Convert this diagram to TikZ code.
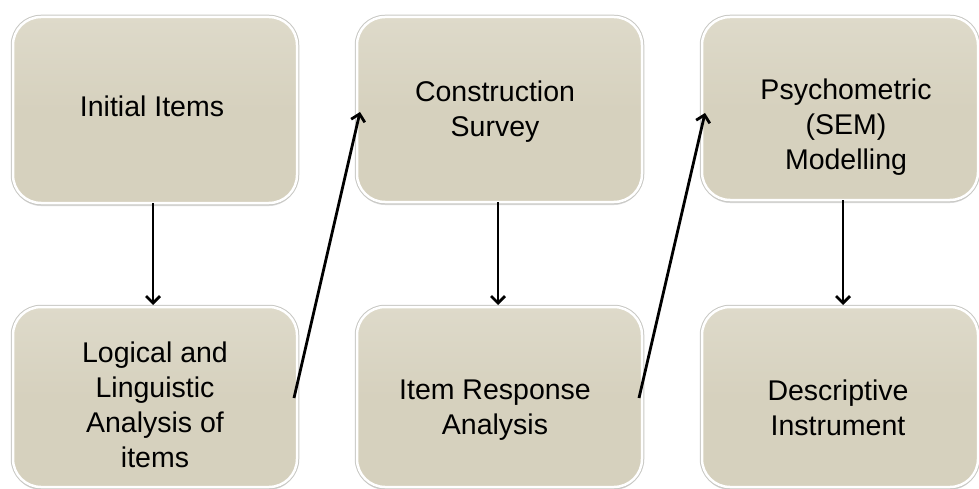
\documentclass[tikz,border=0pt]{standalone}
\usepackage{fontspec}
\setmainfont{Liberation Sans}
\usetikzlibrary{arrows.meta,shadows}
\definecolor{boxfill}{RGB}{214,209,190}
\definecolor{boxtop}{RGB}{222,218,202}
\definecolor{boxedge}{RGB}{200,200,196}
\tikzset{
  stagebox/.style={rectangle, rounded corners=28pt, top color=boxtop, bottom color=boxfill,
    middle color=boxfill, draw=white,
    line width=2.5pt, inner sep=0pt, outer sep=0pt,
    drop shadow={shadow xshift=0pt, shadow yshift=-3pt, opacity=0.3, fill=gray},
    preaction={draw=boxedge, line width=4.5pt}},
  stagetext/.style={align=center, anchor=base, inner sep=0pt,
    font=\fontsize{28.5}{35}\selectfont},
  flow/.style={line width=2.8pt, -{Straight Barb[length=7pt,width=14pt,line width=2.8pt]}},
}
\begin{document}
\begin{tikzpicture}[x=1pt,y=-1pt]
\useasboundingbox (0,0) rectangle (979,489);
% boxes
\node[stagebox, minimum width=284pt, minimum height=186pt] (b1) at (155,110) {};
\node[stagebox, minimum width=285pt, minimum height=185pt] (b2) at (499.5,109.5) {};
\node[stagebox, minimum width=276pt, minimum height=183pt] (b3) at (840,108.5) {};
\node[stagebox, minimum width=284pt, minimum height=180pt] (b4) at (155,397) {};
\node[stagebox, minimum width=285pt, minimum height=180pt] (b5) at (499.5,397) {};
\node[stagebox, minimum width=276pt, minimum height=180pt] (b6) at (840,397) {};
% texts (base = baseline of last line)
\node[stagetext] (t1) at (152,117) {Initial Items};
\node[stagetext] (t2) at (495,137) {Construction\\Survey};
\node[stagetext] (t3) at (846,170) {Psychometric\\(SEM)\\Modelling};
\node[stagetext] (t4) at (155,467) {Logical and\\Linguistic\\Analysis of\\items};
\node[stagetext] (t5) at (495,434) {Item Response\\Analysis};
\node[stagetext] (t6) at (838,435) {Descriptive\\Instrument};
% arrows
\draw[flow] ([xshift=-2pt]b1.south) -- ([xshift=-2pt,yshift=2pt]b4.north);
\draw[flow] ([xshift=-1.5pt]b2.south) -- ([xshift=-1.5pt,yshift=2pt]b5.north);
\draw[flow] ([xshift=3pt]b3.south) -- ([xshift=3pt,yshift=2pt]b6.north);
\draw[flow] ([xshift=-3pt,yshift=-1pt]b4.east) -- ([xshift=3pt,yshift=-2.5pt]b2.west);
\draw[flow] ([xshift=-3pt,yshift=-1pt]b5.east) -- ([xshift=3pt,yshift=-4.5pt]b3.west);
\end{tikzpicture}
\end{document}
